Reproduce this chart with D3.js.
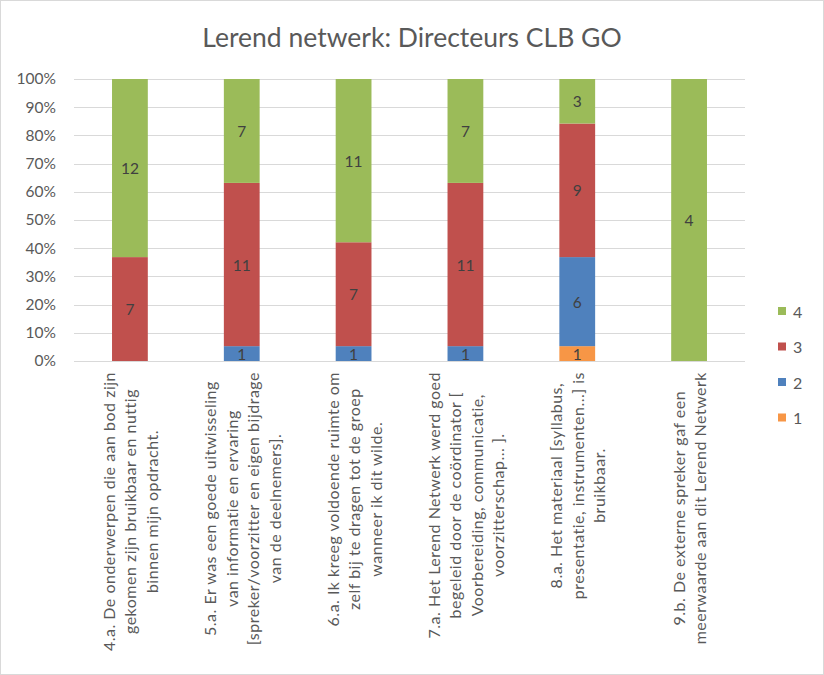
<!DOCTYPE html>
<html>
<head>
<meta charset="utf-8">
<script src="https://cdn.jsdelivr.net/npm/d3@7"></script>
<style>
  html, body { margin: 0; padding: 0; background: #fff; }
  svg { display: block; font-family: Lato, "Open Sans", sans-serif; }
</style>
</head>
<body>
<svg id="chart" width="824" height="675"></svg>
<script>
const title = "Lerend netwerk: Directeurs CLB GO";
const categories = [
  ["4.a. De onderwerpen die aan bod zijn", "gekomen zijn bruikbaar en nuttig", "binnen mijn opdracht."],
  ["5.a. Er was een goede uitwisseling", "van informatie en ervaring", "[spreker/voorzitter en eigen bijdrage", "van de deelnemers]."],
  ["6.a. Ik kreeg voldoende ruimte om", "zelf bij te dragen tot de groep", "wanneer ik dit wilde."],
  ["7.a. Het Lerend Netwerk werd goed", "begeleid door de coördinator [", "Voorbereiding, communicatie,", "voorzitterschap... ]."],
  ["8.a. Het materiaal [syllabus,", "presentatie, instrumenten...] is", "bruikbaar."],
  ["9.b. De externe spreker gaf een", "meerwaarde aan dit Lerend Netwerk"]
];
const seriesNames = ["1", "2", "3", "4"];
const series1 = [0, 0, 0, 0, 1, 0];
const series2 = [0, 1, 1, 1, 6, 0];
const series3 = [7, 11, 7, 11, 9, 0];
const series4 = [12, 7, 11, 7, 3, 4];
const colors = ["#F79646", "#4F81BD", "#C0504D", "#9BBB59"];
const yTicks = [0, 0.1, 0.2, 0.3, 0.4, 0.5, 0.6, 0.7, 0.8, 0.9, 1.0];

const svg = d3.select("#chart");
const W = 824, H = 675;
const margin = { left: 74, right: 79, top: 79, bottom: 314 };
const x0 = margin.left, x1 = W - margin.right;
const yTop = margin.top, yBot = H - margin.bottom;

// Border
svg.append("rect").attr("x", 0.5).attr("y", 0.5).attr("width", W - 1).attr("height", H - 1)
  .attr("fill", "#fff").attr("stroke", "#d9d9d9");

// Title
svg.append("text").attr("x", W / 2).attr("y", 47).attr("text-anchor", "middle")
  .attr("font-size", 26.5).attr("fill", "#595959").text(title);

const x = d3.scaleBand().domain(d3.range(categories.length)).range([x0, x1]).padding(0);
const y = d3.scaleLinear().domain([0, 1]).range([yBot, yTop]);

// Gridlines
svg.append("g").selectAll("line").data(yTicks).join("line")
  .attr("x1", x0).attr("x2", x1)
  .attr("y1", d => Math.round(y(d)) + 0.5).attr("y2", d => Math.round(y(d)) + 0.5)
  .attr("stroke", "#d9d9d9").attr("stroke-width", 1);

// Y axis labels
const yAxis = d3.axisLeft(y).tickValues(yTicks).tickFormat(d3.format(".0%")).tickSize(0).tickPadding(0);
const yg = svg.append("g").attr("transform", `translate(${x0 - 18},0)`).call(yAxis);
yg.select(".domain").remove();
yg.selectAll("text").attr("font-size", 15.5).attr("fill", "#595959")
  .attr("font-family", "Lato, sans-serif");

// Stack
const rows = categories.map((c, i) => ({ i, "1": series1[i], "2": series2[i], "3": series3[i], "4": series4[i] }));
const stack = d3.stack().keys(seriesNames).offset(d3.stackOffsetExpand);
const stacked = stack(rows);

const barW = x.bandwidth() * 0.32;
const gBars = svg.append("g");
stacked.forEach((layer, si) => {
  layer.forEach((seg, ci) => {
    const v = rows[ci][seriesNames[si]];
    if (!v) return;
    const cx = x(ci) + x.bandwidth() / 2;
    gBars.append("rect")
      .attr("x", cx - barW / 2).attr("width", barW)
      .attr("y", y(seg[1])).attr("height", y(seg[0]) - y(seg[1]))
      .attr("fill", colors[si]);
    gBars.append("text")
      .attr("x", cx).attr("y", (y(seg[0]) + y(seg[1])) / 2)
      .attr("text-anchor", "middle").attr("dominant-baseline", "central")
      .attr("font-size", 15.5).attr("fill", "#404040").text(v);
  });
});

// Category labels (rotated)
const lineGap = 21.5;
const labelTop = yBot + 11;
categories.forEach((lines, ci) => {
  const cx = x(ci) + x.bandwidth() / 2;
  const g = svg.append("g");
  const texts = lines.map((ln, li) => {
    const px = cx + (li - (lines.length - 1) / 2) * lineGap;
    return g.append("text")
      .attr("font-size", 16).attr("letter-spacing", 0.5).attr("fill", "#595959")
      .attr("text-anchor", "middle").attr("dominant-baseline", "central")
      .attr("data-x", px).text(ln);
  });
  const maxLen = d3.max(texts, t => t.node().getComputedTextLength());
  texts.forEach(t => {
    const px = +t.attr("data-x");
    const py = labelTop + maxLen / 2;
    t.attr("transform", `translate(${px},${py}) rotate(-90)`);
  });
});

// Legend
const legendItems = seriesNames.map((s, i) => ({ s, c: colors[i] })).reverse();
const lg = svg.append("g");
legendItems.forEach((d, i) => {
  const cy = 311 + i * 35.5;
  lg.append("rect").attr("x", 778).attr("y", cy - 4).attr("width", 8).attr("height", 8).attr("fill", d.c);
  lg.append("text").attr("x", 793).attr("y", cy).attr("dominant-baseline", "central")
    .attr("font-size", 16).attr("fill", "#595959").text(d.s);
});
</script>
</body>
</html>
